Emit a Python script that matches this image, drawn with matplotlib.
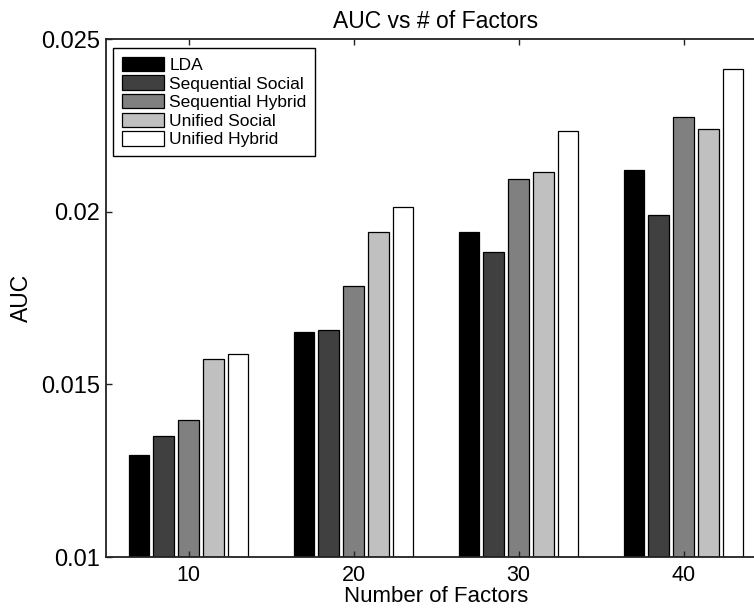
import matplotlib.pyplot as plt
import numpy as np

plt.rcParams['font.family'] = ['Liberation Sans', 'DejaVu Sans']

factors = ['10', '20', '30', '40']
methods = ['LDA', 'Sequential Social', 'Sequential Hybrid', 'Unified Social', 'Unified Hybrid']
lda = [0.01295, 0.01652, 0.01941, 0.02121]
seq_social = [0.01350, 0.01657, 0.01883, 0.01990]
seq_hybrid = [0.01397, 0.01785, 0.02095, 0.02274]
uni_social = [0.01573, 0.01941, 0.02115, 0.02239]
uni_hybrid = [0.01588, 0.02014, 0.02234, 0.02413]
colors = ['#000000', '#404040', '#808080', '#c0c0c0', '#ffffff']

series = [lda, seq_social, seq_hybrid, uni_social, uni_hybrid]

fig = plt.figure(figsize=(7.54, 6.09), dpi=100)
ax = fig.add_axes([106 / 754, 52 / 609, 660 / 754, 518 / 609])

x = np.arange(1, len(factors) + 1)
step = 0.15
for i, (vals, name, c) in enumerate(zip(series, methods, colors)):
    ax.bar(x + (i - 2) * step, np.array(vals) - 0.01, bottom=0.01, width=0.125,
           color=c, edgecolor='black', linewidth=0.9, label=name)

ax.set_xlim(0.5, 4.5)
ax.set_ylim(0.01, 0.025)
ax.set_xticks(x)
ax.set_xticklabels(factors)
ax.set_yticks([0.01, 0.015, 0.02, 0.025])
ax.set_yticklabels(['0.01', '0.015', '0.02', '0.025'])
ax.tick_params(direction='in', length=4.5, width=1, labelsize=15.5,
               top=True, right=True, color='#222222')
ax.tick_params(axis='y', labelsize=17, pad=4)
ax.tick_params(axis='x', pad=6)
for s in ax.spines.values():
    s.set_linewidth(1.3)
    s.set_color('#222222')

ax.set_title('AUC vs # of Factors', fontsize=16.5, pad=8)
ax.set_xlabel('Number of Factors', fontsize=16, labelpad=0)
ax.set_ylabel('AUC', fontsize=16.5, labelpad=6)

leg = ax.legend(loc='upper left', bbox_to_anchor=(0.0106, 0.9826), borderaxespad=0,
                fontsize=12.5, handlelength=2.45, handleheight=0.9, handletextpad=0.3,
                labelspacing=0.14, borderpad=0.5, fancybox=False, framealpha=1,
                edgecolor='black')
leg.get_frame().set_linewidth(1.0)

fig.savefig('out.png', dpi=100)
